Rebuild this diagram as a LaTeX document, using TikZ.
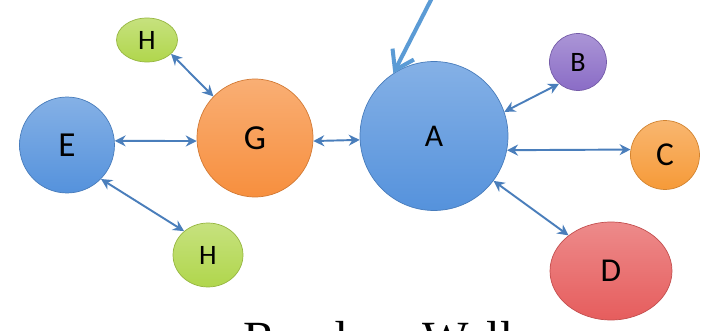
\documentclass[tikz,border=0pt]{standalone}
\usepackage{fontspec}
\setmainfont{Carlito}
\newfontfamily\titlefont{Liberation Serif}
\usetikzlibrary{shapes.geometric,arrows.meta}

\definecolor{ballblue}{HTML}{5592DC}
\definecolor{ballorange}{HTML}{F78F3E}
\definecolor{ballgreen}{HTML}{B0D64C}
\definecolor{ballpurple}{HTML}{8A6CC6}
\definecolor{ballamber}{HTML}{F69A38}
\definecolor{ballred}{HTML}{E65D5D}
\definecolor{linkblue}{HTML}{4A7EBB}
\definecolor{pointblue}{HTML}{5B9BD5}

\tikzset{
  ball/.style={ellipse, inner sep=0pt, draw=#1!85!black, line width=0.4pt,
    top color=#1!72!white, bottom color=#1, text=black},
  link/.style={{Stealth[length=2.2mm,width=2.2mm]}-{Stealth[length=2.2mm,width=2.2mm]},
    line width=1.1pt, draw=linkblue},
}

\begin{document}
\begin{tikzpicture}[x=0.02cm,y=-0.02cm]
    \useasboundingbox (0,0) rectangle (710,331);
    \clip (0,0) rectangle (710,331);
    % the walk
    \node[ball=ballblue, minimum width=2.96cm, minimum height=2.98cm,
      font=\fontsize{18}{18}\selectfont] (A) at (434,136) {A};
    \node[ball=ballpurple, minimum width=1.14cm, minimum height=1.14cm,
      font=\fontsize{16}{16}\selectfont] (B) at (578,62) {B};
    \node[ball=ballamber, minimum width=1.38cm, minimum height=1.38cm,
      font=\fontsize{19}{19}\selectfont] (C) at (665,155) {C};
    \node[ball=ballred, minimum width=2.44cm, minimum height=1.96cm,
      font=\fontsize{19}{19}\selectfont] (D) at (611,271) {D};
    \node[ball=ballblue, minimum width=1.9cm, minimum height=1.92cm,
      font=\fontsize{20}{20}\selectfont] (E) at (67,145) {E};
    \node[ball=ballorange, minimum width=2.32cm, minimum height=2.36cm,
      font=\fontsize{20}{20}\selectfont] (G) at (255,138) {G};
    \node[ball=ballgreen, minimum width=1.22cm, minimum height=0.88cm,
      font=\fontsize{16}{16}\selectfont] (H1) at (147,40) {H};
    \node[ball=ballgreen, minimum width=1.4cm, minimum height=1.28cm,
      font=\fontsize{16}{16}\selectfont] (H2) at (208,255) {H};

    \draw[link] (H1.-30) -- (G.135);
    \draw[link] (E.5) -- (G.183);
    \draw[link] (E.-45) -- (H2.135);
    \draw[link] (G.-3) -- (A.183);
    \draw[link] (A.19) -- (B.-131);
    \draw[link] (A.-11) -- (C.171);
    \draw[link] (A.-37) -- (D.140);

    % start pointer
    \coordinate (start) at (434,-6);
    \draw[-{Straight Barb[length=3.6mm,width=4.8mm]}, line width=2.3pt,
      draw=pointblue, line cap=round] (start) -- (A.123);

    \node[anchor=base west, inner sep=0pt, font=\titlefont\fontsize{28}{28}\selectfont]
      (title) at (243,355) {Random Walk};
\end{tikzpicture}
\end{document}
